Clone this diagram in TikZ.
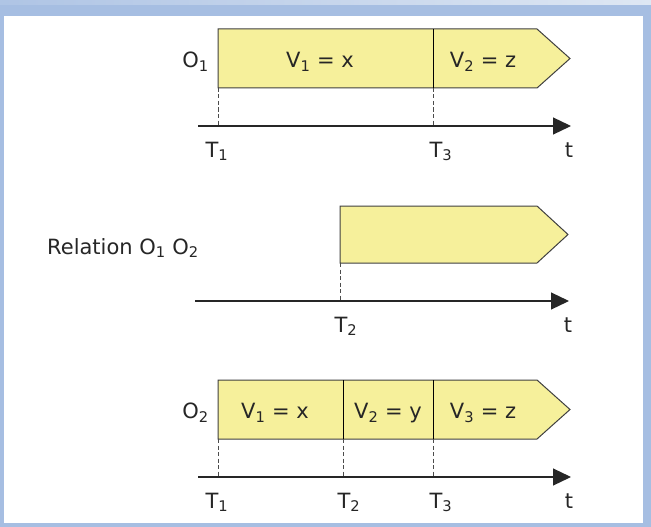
\documentclass[tikz,border=0pt]{standalone}
\usepackage{fontspec}
\setmainfont{DejaVu Sans}
\usepackage{tikz}
\usetikzlibrary{arrows.meta,positioning,calc}

\definecolor{barfill}{RGB}{246,240,155}
\definecolor{frameblue}{RGB}{166,190,226}
\definecolor{framelight}{RGB}{222,231,243}
\newcommand{\lblfont}{\fontsize{21}{25}\selectfont}

\begin{document}
\begin{tikzpicture}[
    x=1pt, y=-1pt,
    >={Triangle[length=18pt,width=17pt]},
    bar/.style={draw=black!75, fill=barfill, line width=1pt},
    lbl/.style={font=\lblfont, text=black!85, inner sep=0pt, anchor=base},
    axis/.style={->, draw=black!85, line width=1.2pt},
    guide/.style={draw=black!70, line width=0.7pt, dash pattern=on 4pt off 2.5pt},
    divider/.style={draw=black, line width=1pt}
]

% Frame
\fill[frameblue] (0,0) rectangle (651,527);
\shade[left color=frameblue!90!white, right color=framelight] (0,0) rectangle (651,5);
\fill[white] (4,16) rectangle (643,523);
\useasboundingbox (0,0) rectangle (651,527);

% Row 1: object O1
\coordinate (b1nw) at (218,29);
\coordinate (b1sw) at (218,88);
\coordinate (b1d)  at (433,29);
\coordinate (b1e)  at (433,88);
\draw[bar] (b1nw) -- (537,29) -- (570,58.5) -- (537,88) -- (b1sw) -- cycle;
\draw[divider] (b1d) -- (b1e);
\node[lbl, anchor=base east] (o1)  at (209,67.5) {O\textsubscript{1}};
\node[lbl] (v1x) at (320,67.5) {V\textsubscript{1} = x};
\node[lbl] (v2z) at (483,67.5) {V\textsubscript{2} = z};

\coordinate (a1s) at (198,126);
\coordinate (a1e) at (571,126);
\coordinate (a1t1) at (218,126);
\coordinate (a1t3) at (433,126);
\draw[axis] (a1s) -- (a1e);
\draw[guide] (b1sw) -- (a1t1);
\draw[guide] (b1e) -- (a1t3);
\node[lbl] (t1a) at (217,157) {T\textsubscript{1}};
\node[lbl] (t3a) at (441,157) {T\textsubscript{3}};
\node[lbl] (ta)  at (569,157) {t};

% Row 2: relation O1 O2
\coordinate (rnw) at (340,206);
\coordinate (rsw) at (340,263);
\draw[bar] (rnw) -- (537,206) -- (568,234.5) -- (537,263) -- (rsw) -- cycle;
\node[lbl, anchor=base west] (rel) at (47,254) {Relation O\textsubscript{1} O\textsubscript{2}};

\coordinate (a2s) at (195,301);
\coordinate (a2e) at (569,301);
\coordinate (a2t2) at (340,301);
\draw[axis] (a2s) -- (a2e);
\draw[guide] (rsw) -- (a2t2);
\node[lbl] (t2b) at (346,332) {T\textsubscript{2}};
\node[lbl] (tb)  at (568,332) {t};

% Row 3: object O2
\coordinate (b3nw) at (218,380);
\coordinate (b3sw) at (218,439);
\coordinate (b3d2) at (343,380);
\coordinate (b3e2) at (343,439);
\coordinate (b3d3) at (433,380);
\coordinate (b3e3) at (433,439);
\draw[bar] (b3nw) -- (537,380) -- (570,409.5) -- (537,439) -- (b3sw) -- cycle;
\draw[divider] (b3d2) -- (b3e2);
\draw[divider] (b3d3) -- (b3e3);
\node[lbl, anchor=base east] (o2)  at (209,418.5) {O\textsubscript{2}};
\node[lbl] (v1x3) at (275,418.5) {V\textsubscript{1} = x};
\node[lbl] (v2y3) at (388,418.5) {V\textsubscript{2} = y};
\node[lbl] (v3z3) at (483,418.5) {V\textsubscript{3} = z};

\coordinate (a3s) at (198,477);
\coordinate (a3e) at (571,477);
\coordinate (a3t1) at (218,477);
\coordinate (a3t2) at (343,477);
\coordinate (a3t3) at (433,477);
\draw[axis] (a3s) -- (a3e);
\draw[guide] (b3sw) -- (a3t1);
\draw[guide] (b3e2) -- (a3t2);
\draw[guide] (b3e3) -- (a3t3);
\node[lbl] (t1c) at (217,508) {T\textsubscript{1}};
\node[lbl] (t2c) at (349,508) {T\textsubscript{2}};
\node[lbl] (t3c) at (441,508) {T\textsubscript{3}};
\node[lbl] (tc)  at (569,508) {t};

\end{tikzpicture}
\end{document}
